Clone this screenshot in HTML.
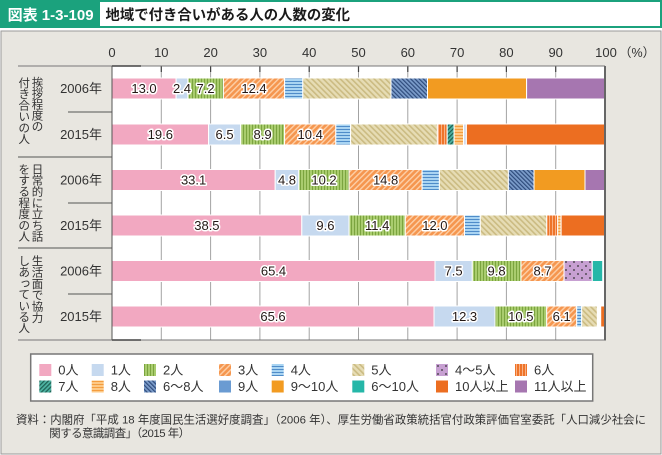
<!DOCTYPE html>
<html><head><meta charset="utf-8"><style>
html,body{margin:0;padding:0;background:#fff;width:662px;height:455px;overflow:hidden}
svg{display:block}
text{font-family:"Liberation Sans","Noto Sans CJK JP",sans-serif}
</style></head><body>
<svg width="662" height="455" viewBox="0 0 662 455" xmlns="http://www.w3.org/2000/svg">
<defs>
<pattern id="p2" width="3" height="10" patternUnits="userSpaceOnUse"><rect width="3" height="10" fill="#a9cc6e"/><rect width="1" height="10" fill="#7ba43f"/></pattern>
<pattern id="p3" width="4" height="4" patternUnits="userSpaceOnUse" patternTransform="rotate(45)"><rect width="4" height="4" fill="#f5964f"/><rect width="1.4" height="4" fill="#fdd0a8"/></pattern>
<pattern id="p4" width="10" height="3" patternUnits="userSpaceOnUse"><rect width="10" height="3" fill="#a9d4f2"/><rect width="10" height="1" fill="#4f8cc9"/></pattern>
<pattern id="p5" width="4" height="4" patternUnits="userSpaceOnUse" patternTransform="rotate(-45)"><rect width="4" height="4" fill="#e6dcb4"/><rect width="1.6" height="4" fill="#cbbb82"/></pattern>
<pattern id="p45" width="8" height="8" patternUnits="userSpaceOnUse"><rect width="8" height="8" fill="#c7a0d2"/><circle cx="2" cy="2" r="0.9" fill="#333"/><circle cx="6" cy="6" r="0.9" fill="#333"/></pattern>
<pattern id="p6" width="3" height="10" patternUnits="userSpaceOnUse"><rect width="3" height="10" fill="#ee7429"/><rect width="1" height="10" fill="#f9b184"/></pattern>
<pattern id="p7" width="3" height="3" patternUnits="userSpaceOnUse" patternTransform="rotate(45)"><rect width="3" height="3" fill="#4db3a2"/><rect width="1.2" height="3" fill="#1d5e52"/></pattern>
<pattern id="p8" width="10" height="3" patternUnits="userSpaceOnUse"><rect width="10" height="3" fill="#fdc986"/><rect width="10" height="1" fill="#f49d3f"/></pattern>
<pattern id="p68" width="3" height="3" patternUnits="userSpaceOnUse" patternTransform="rotate(-45)"><rect width="3" height="3" fill="#7b9cca"/><rect width="1.2" height="3" fill="#2f4c7c"/></pattern>
</defs>

<!-- header -->
<rect x="1" y="1" width="660" height="26" fill="#fff" stroke="#1ba27d" stroke-width="2"/>
<rect x="1" y="1" width="99" height="26" fill="#1ba27d"/>
<text x="7.6" y="20" font-size="15" font-weight="bold" fill="#fff" textLength="86" lengthAdjust="spacingAndGlyphs">図表 1-3-109</text>
<text x="105.5" y="20" font-size="14.5" font-weight="bold" fill="#1a1a1a" textLength="244.5" lengthAdjust="spacingAndGlyphs">地域で付き合いがある人の人数の変化</text>

<!-- panel -->
<rect x="1" y="31" width="660" height="423" fill="#e8e6e0" stroke="#9a9a9a" stroke-width="1"/>

<!-- plot area -->
<rect x="112" y="66" width="493" height="274" fill="#fff"/>
<g stroke="#a3a3a3" stroke-width="1">
<line x1="161.3" y1="66" x2="161.3" y2="340"/><line x1="210.6" y1="66" x2="210.6" y2="340"/><line x1="259.9" y1="66" x2="259.9" y2="340"/><line x1="309.2" y1="66" x2="309.2" y2="340"/><line x1="358.5" y1="66" x2="358.5" y2="340"/><line x1="407.8" y1="66" x2="407.8" y2="340"/><line x1="457.1" y1="66" x2="457.1" y2="340"/><line x1="506.4" y1="66" x2="506.4" y2="340"/><line x1="555.7" y1="66" x2="555.7" y2="340"/>
</g>
<g stroke="#444" stroke-width="1.2">
<line x1="161.3" y1="66" x2="161.3" y2="72"/><line x1="210.6" y1="66" x2="210.6" y2="72"/><line x1="259.9" y1="66" x2="259.9" y2="72"/><line x1="309.2" y1="66" x2="309.2" y2="72"/><line x1="358.5" y1="66" x2="358.5" y2="72"/><line x1="407.8" y1="66" x2="407.8" y2="72"/><line x1="457.1" y1="66" x2="457.1" y2="72"/><line x1="506.4" y1="66" x2="506.4" y2="72"/><line x1="555.7" y1="66" x2="555.7" y2="72"/>
</g>

<!-- axis labels -->
<g font-size="13" fill="#333" text-anchor="middle">
<text x="112" y="57">0</text><text x="161.3" y="57">10</text><text x="210.6" y="57">20</text><text x="259.9" y="57">30</text><text x="309.2" y="57">40</text><text x="358.5" y="57">50</text><text x="407.8" y="57">60</text><text x="457.1" y="57">70</text><text x="506.4" y="57">80</text><text x="555.7" y="57">90</text><text x="606" y="57">100</text>
</g>
<text x="619" y="57" font-size="12.5" fill="#333">（%）</text>

<!-- bars -->
<g stroke="#fff" stroke-width="1">
<!-- bar1 -->
<rect x="112" y="78" width="64.1" height="21" fill="#f2a8c1"/>
<rect x="176.1" y="78" width="11.8" height="21" fill="#c6d9ef"/>
<rect x="187.9" y="78" width="35.5" height="21" fill="url(#p2)"/>
<rect x="223.4" y="78" width="61.2" height="21" fill="url(#p3)"/>
<rect x="284.6" y="78" width="18.2" height="21" fill="url(#p4)"/>
<rect x="302.8" y="78" width="88.2" height="21" fill="url(#p5)"/>
<rect x="391" y="78" width="36.5" height="21" fill="url(#p68)"/>
<rect x="427.5" y="78" width="99.1" height="21" fill="#f29b21"/>
<rect x="526.6" y="78" width="78.4" height="21" fill="#a676b0"/>
<!-- bar2 -->
<rect x="112" y="124" width="96.6" height="21" fill="#f2a8c1"/>
<rect x="208.6" y="124" width="32.1" height="21" fill="#c6d9ef"/>
<rect x="240.7" y="124" width="43.9" height="21" fill="url(#p2)"/>
<rect x="284.6" y="124" width="51.2" height="21" fill="url(#p3)"/>
<rect x="335.8" y="124" width="14.8" height="21" fill="url(#p4)"/>
<rect x="350.6" y="124" width="86.8" height="21" fill="url(#p5)"/>
<rect x="437.4" y="124" width="9.8" height="21" fill="url(#p6)"/>
<rect x="447.2" y="124" width="6.9" height="21" fill="url(#p7)"/>
<rect x="454.1" y="124" width="9.4" height="21" fill="url(#p8)"/>
<rect x="463.5" y="124" width="2.9" height="21" fill="#d3dbec"/>
<rect x="466.4" y="124" width="138.6" height="21" fill="#ec6e21"/>
<!-- bar3 -->
<rect x="112" y="169.5" width="163.2" height="21" fill="#f2a8c1"/>
<rect x="275.2" y="169.5" width="23.6" height="21" fill="#c6d9ef"/>
<rect x="298.8" y="169.5" width="50.3" height="21" fill="url(#p2)"/>
<rect x="349.1" y="169.5" width="73" height="21" fill="url(#p3)"/>
<rect x="422.1" y="169.5" width="17.3" height="21" fill="url(#p4)"/>
<rect x="439.4" y="169.5" width="69" height="21" fill="url(#p5)"/>
<rect x="508.4" y="169.5" width="25.6" height="21" fill="url(#p68)"/>
<rect x="534" y="169.5" width="51" height="21" fill="#f29b21"/>
<rect x="585" y="169.5" width="20" height="21" fill="#a676b0"/>
<!-- bar4 -->
<rect x="112" y="215" width="189.8" height="21" fill="#f2a8c1"/>
<rect x="301.8" y="215" width="47.3" height="21" fill="#c6d9ef"/>
<rect x="349.1" y="215" width="56.2" height="21" fill="url(#p2)"/>
<rect x="405.3" y="215" width="59.2" height="21" fill="url(#p3)"/>
<rect x="464.5" y="215" width="15.8" height="21" fill="url(#p4)"/>
<rect x="480.3" y="215" width="66.5" height="21" fill="url(#p5)"/>
<rect x="546.8" y="215" width="10.9" height="21" fill="url(#p6)"/>
<rect x="557.7" y="215" width="3.4" height="21" fill="url(#p8)"/>
<rect x="561.1" y="215" width="43.9" height="21" fill="#ec6e21"/>
<!-- bar5 -->
<rect x="112" y="260.5" width="323" height="21" fill="#f2a8c1"/>
<rect x="435" y="260.5" width="37.3" height="21" fill="#c6d9ef"/>
<rect x="472.3" y="260.5" width="48.7" height="21" fill="url(#p2)"/>
<rect x="521" y="260.5" width="43" height="21" fill="url(#p3)"/>
<rect x="564" y="260.5" width="28.3" height="21" fill="url(#p45)"/>
<rect x="592.3" y="260.5" width="10.4" height="21" fill="#25b7a8"/>
<!-- bar6 -->
<rect x="112" y="306" width="322" height="21" fill="#f2a8c1"/>
<rect x="434" y="306" width="61" height="21" fill="#c6d9ef"/>
<rect x="495" y="306" width="51.7" height="21" fill="url(#p2)"/>
<rect x="546.7" y="306" width="30" height="21" fill="url(#p3)"/>
<rect x="576.7" y="306" width="5" height="21" fill="url(#p4)"/>
<rect x="581.7" y="306" width="15.6" height="21" fill="url(#p5)"/>
<rect x="600.7" y="306" width="4" height="21" fill="#ec6e21"/>
</g>

<!-- bar value labels -->
<g font-size="13" fill="#231815" text-anchor="middle" stroke="#fff" stroke-width="3" paint-order="stroke" stroke-linejoin="round">
<text x="144" y="93">13.0</text><text x="182" y="93">2.4</text><text x="205.6" y="93">7.2</text><text x="254" y="93">12.4</text>
<text x="160.3" y="139">19.6</text><text x="224.6" y="139">6.5</text><text x="262.6" y="139">8.9</text><text x="310.2" y="139">10.4</text>
<text x="193.6" y="184.5">33.1</text><text x="287" y="184.5">4.8</text><text x="324" y="184.5">10.2</text><text x="385.6" y="184.5">14.8</text>
<text x="206.9" y="230">38.5</text><text x="325.4" y="230">9.6</text><text x="377.2" y="230">11.4</text><text x="434.9" y="230">12.0</text>
<text x="273.5" y="275.5">65.4</text><text x="453.6" y="275.5">7.5</text><text x="496.6" y="275.5">9.8</text><text x="542.5" y="275.5">8.7</text>
<text x="273" y="321">65.6</text><text x="464.5" y="321">12.3</text><text x="520.8" y="321">10.5</text><text x="561.7" y="321">6.1</text>
</g>

<!-- frame lines -->
<line x1="18" y1="66" x2="605" y2="66" stroke="#777" stroke-width="1"/>
<line x1="18" y1="340" x2="605" y2="340" stroke="#777" stroke-width="1"/>
<line x1="112" y1="66" x2="141" y2="66" stroke="#444" stroke-width="1.4"/>
<line x1="112" y1="340" x2="141" y2="340" stroke="#444" stroke-width="1.4"/>
<line x1="112" y1="66" x2="112" y2="340" stroke="#555" stroke-width="1"/>
<line x1="605" y1="66" x2="605" y2="340.5" stroke="#666" stroke-width="2"/>
<g stroke="#555" stroke-width="1">
<line x1="18" y1="157" x2="112" y2="157"/><line x1="18" y1="248" x2="112" y2="248"/>
<line x1="68" y1="112" x2="112" y2="112"/><line x1="68" y1="203" x2="112" y2="203"/><line x1="68" y1="294" x2="112" y2="294"/>
</g>

<!-- year labels -->
<g font-size="13" fill="#333" text-anchor="end">
<text x="102" y="93">2006年</text><text x="102" y="139">2015年</text>
<text x="102" y="184.5">2006年</text><text x="102" y="230">2015年</text>
<text x="102" y="275.5">2006年</text><text x="102" y="321">2015年</text>
</g>

<!-- vertical group labels -->
<g font-size="11.5" fill="#333" text-anchor="middle">
<text x="37.5" y="86.7">挨</text><text x="37.5" y="97.7">拶</text><text x="37.5" y="108.7">程</text><text x="37.5" y="119.7">度</text><text x="37.5" y="130.7">の</text>
<text x="24.2" y="87">付</text><text x="24.2" y="98.2">き</text><text x="24.2" y="109.4">合</text><text x="24.2" y="120.6">い</text><text x="24.2" y="131.8">の</text><text x="24.2" y="143">人</text>
<text x="37.5" y="173.3">日</text><text x="37.5" y="184.5">常</text><text x="37.5" y="195.7">的</text><text x="37.5" y="206.9">に</text><text x="37.5" y="218.1">立</text><text x="37.5" y="229.3">ち</text><text x="37.5" y="240.5">話</text>
<text x="24.2" y="173.3">を</text><text x="24.2" y="184.5">す</text><text x="24.2" y="195.7">る</text><text x="24.2" y="206.9">程</text><text x="24.2" y="218.1">度</text><text x="24.2" y="229.3">の</text><text x="24.2" y="240.5">人</text>
<text x="37.5" y="265">生</text><text x="37.5" y="276.4">活</text><text x="37.5" y="287.8">面</text><text x="37.5" y="299.2">で</text><text x="37.5" y="310.6">協</text><text x="37.5" y="322">力</text>
<text x="24.2" y="265">し</text><text x="24.2" y="276.2">あ</text><text x="25.4" y="286.4">っ</text><text x="24.2" y="298.6">て</text><text x="24.2" y="309.8">い</text><text x="24.2" y="321">る</text><text x="24.2" y="332.2">人</text>
</g>

<!-- legend -->
<rect x="30.7" y="354" width="562" height="47" fill="#fff" stroke="#777" stroke-width="1.5"/>
<g>
<rect x="39.3" y="364" width="12" height="12" fill="#f2a8c1"/>
<rect x="91.7" y="364" width="12" height="12" fill="#c6d9ef"/>
<rect x="144" y="364" width="12" height="12" fill="url(#p2)"/>
<rect x="219" y="364" width="12" height="12" fill="url(#p3)"/>
<rect x="271.7" y="364" width="12" height="12" fill="url(#p4)"/>
<rect x="352.3" y="364" width="12" height="12" fill="url(#p5)"/>
<rect x="436" y="364" width="12" height="12" fill="url(#p45)"/>
<rect x="515" y="364" width="12" height="12" fill="url(#p6)"/>
<rect x="39.3" y="380.5" width="12" height="12" fill="url(#p7)"/>
<rect x="91.7" y="380.5" width="12" height="12" fill="url(#p8)"/>
<rect x="144" y="380.5" width="12" height="12" fill="url(#p68)"/>
<rect x="219" y="380.5" width="12" height="12" fill="#6a9bd2"/>
<rect x="271.7" y="380.5" width="12" height="12" fill="#f29b21"/>
<rect x="352.3" y="380.5" width="12" height="12" fill="#25b7a8"/>
<rect x="436" y="380.5" width="12" height="12" fill="#ec6e21"/>
<rect x="515" y="380.5" width="12" height="12" fill="#a676b0"/>
</g>
<g font-size="13" fill="#333">
<text x="58.3" y="374.5">0人</text><text x="110.7" y="374.5">1人</text><text x="163" y="374.5">2人</text><text x="238" y="374.5">3人</text><text x="290.7" y="374.5">4人</text><text x="371.3" y="374.5">5人</text><text x="455" y="374.5">4～5人</text><text x="534" y="374.5">6人</text>
<text x="58.3" y="391">7人</text><text x="110.7" y="391">8人</text><text x="163" y="391">6～8人</text><text x="238" y="391">9人</text><text x="290.7" y="391">9～10人</text><text x="371.3" y="391">6～10人</text><text x="455" y="391">10人以上</text><text x="534" y="391">11人以上</text>
</g>

<!-- source -->
<g font-size="11.4" fill="#333">
<text x="16" y="423.5" textLength="630" lengthAdjust="spacing">資料：内閣府「平成 18 年度国民生活選好度調査」（2006 年）、厚生労働省政策統括官付政策評価官室委託「人口減少社会に</text>
<text x="49.3" y="437" textLength="140.7" lengthAdjust="spacing">関する意識調査」（2015 年）</text>
</g>
</svg>
</body></html>
